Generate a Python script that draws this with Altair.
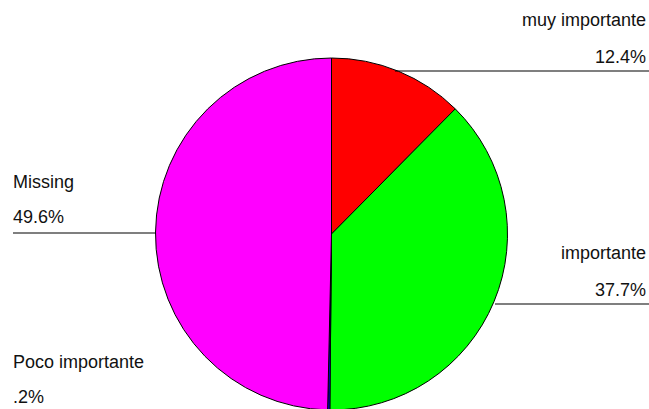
import altair as alt
import pandas as pd

categories = ["muy importante", "importante", "Poco importante", "Missing"]
percents = [12.4, 37.7, 0.2, 49.6]
pct_labels = ["12.4%", "37.7%", ".2%", "49.6%"]
colors = ["#FF0000", "#00FF00", "#0000FF", "#FF00FF"]

df = pd.DataFrame({
    "cat": categories,
    "pct": percents,
    "plabel": pct_labels,
    "idx": list(range(len(categories))),
})

CX, CY, R = 331.5, 234, 176
FONT = "Liberation Sans"
FS = 18

base = alt.Chart(df)

pie = base.mark_arc(outerRadius=R, stroke="black", strokeWidth=1).encode(
    theta=alt.Theta("pct:Q", stack=True),
    order=alt.Order("idx:Q"),
    color=alt.Color("cat:N", scale=alt.Scale(domain=categories, range=colors), sort=None, legend=None),
    x=alt.value(CX),
    y=alt.value(CY),
)

# label settings: (category, x, align, name_baseline_y, pct_baseline_y, rule)
label_specs = [
    ("muy importante", 646, "right", 26, 63, (395, 649, 71)),
    ("importante", 646, "right", 259, 295.5, (495, 649, 304)),
    ("Missing", 13, "left", 188, 223, (13, 156, 233)),
    ("Poco importante", 13, "left", 367.5, 403, None),
]

layers = [pie]
for cat, x, align, y1, y2, rule in label_specs:
    sub = base.transform_filter(alt.datum.cat == cat)
    layers.append(
        sub.mark_text(align=align, baseline="alphabetic", font=FONT, fontSize=FS, color="#111111").encode(
            text="cat:N", x=alt.value(x), y=alt.value(y1)
        )
    )
    layers.append(
        sub.mark_text(align=align, baseline="alphabetic", font=FONT, fontSize=FS, color="#111111").encode(
            text="plabel:N", x=alt.value(x), y=alt.value(y2)
        )
    )
    if rule is not None:
        layers.append(
            sub.mark_rule(color="black", strokeWidth=1.2).encode(
                x=alt.value(rule[0]), x2=alt.value(rule[1]), y=alt.value(rule[2])
            )
        )

chart = alt.layer(*layers).properties(
    width=649, height=409, padding=0, autosize=alt.AutoSizeParams(type="none"),
    background="white",
).configure_view(stroke=None)

chart.save("out.html", embed_options={"renderer": "svg", "actions": False})
